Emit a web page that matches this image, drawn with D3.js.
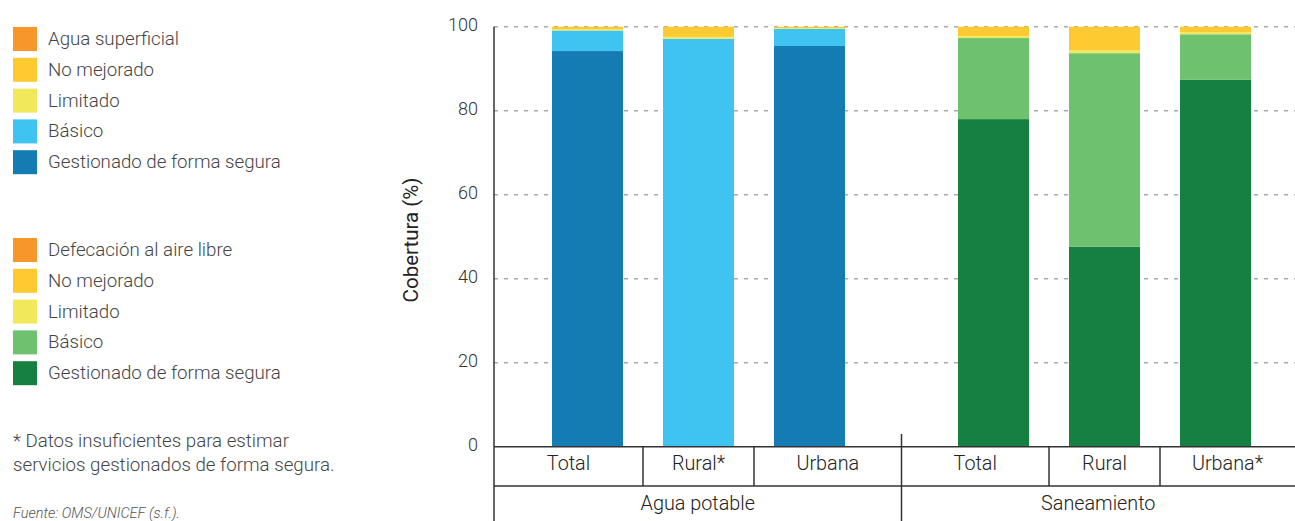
<!DOCTYPE html>
<meta charset="utf-8">
<style>
    body { margin: 0; background: #fff; }
    text { font-family: Roboto, "Noto Sans", sans-serif; font-weight: 300; }
    .legend text { font-size: 18.7px; fill: #444; }
    .note { font-size: 18.7px; fill: #444; }
    .source { font-size: 14.5px; fill: #555; font-style: italic; }
    .y-axis text { font-size: 18px; fill: #333; }
    .cell-label { font-size: 19.8px; fill: #222; }
</style>
<svg width="1295" height="521"></svg>
<script src="https://d3js.org/d3.v7.min.js"></script>
<script>

    // categorias y valores (%)
    const grupos = ["Agua potable", "Saneamiento"];
    const categorias = ["Total", "Rural", "Urbana"];
    const etiquetasAgua = ["Total", "Rural*", "Urbana"];
    const etiquetasSaneamiento = ["Total", "Rural", "Urbana*"];

    const aguaSegura = [94.2, 0, 95.4];
    const aguaBasico = [4.9, 97.1, 4.1];
    const aguaLimitado = [0.3, 0.5, 0.2];
    const aguaNoMejorado = [0.6, 2.4, 0.3];
    const aguaSuperficial = [0, 0, 0];

    const sanSegura = [78.0, 47.6, 87.4];
    const sanBasico = [19.3, 46.1, 10.8];
    const sanLimitado = [0.5, 0.7, 0.5];
    const sanNoMejorado = [2.2, 5.6, 1.3];
    const sanAireLibre = [0, 0, 0];

    const yTicks = [0, 20, 40, 60, 80, 100];

    const legendAgua = ["Agua superficial", "No mejorado", "Limitado", "Básico", "Gestionado de forma segura"];
    const legendSan = ["Defecación al aire libre", "No mejorado", "Limitado", "Básico", "Gestionado de forma segura"];
    const coloresAgua = ["#f7972b", "#fdca31", "#f1e85c", "#3fc4f1", "#147cb2"];
    const coloresSan = ["#f7972b", "#fdca31", "#f1e85c", "#6ec26f", "#168040"];

    const keys = ["segura", "basico", "limitado", "noMejorado", "superficial"];

    const svg = d3.select("svg"),
        width = +svg.attr("width"),
        height = +svg.attr("height");

    const plotLeft = 494, plotTop = 26.7, plotBottom = 446.7, rowLine = 486;

    const y = d3.scaleLinear().domain([0, 100]).range([plotBottom, plotTop]);

    const xGroup = d3.scaleBand().domain(grupos).range([552, 1251]).paddingInner(113 / 406);
    const xSub = d3.scaleBand().domain(categorias).range([0, xGroup.bandwidth()]).paddingInner(40 / 111);

    function rows(seg, bas, lim, nom, sup) {
        return categorias.map((c, i) => ({
            cat: c, segura: seg[i], basico: bas[i], limitado: lim[i], noMejorado: nom[i], superficial: sup[i]
        }));
    }

    const datos = {
        "Agua potable": rows(aguaSegura, aguaBasico, aguaLimitado, aguaNoMejorado, aguaSuperficial),
        "Saneamiento": rows(sanSegura, sanBasico, sanLimitado, sanNoMejorado, sanAireLibre)
    };
    const colores = {
        "Agua potable": coloresAgua.slice().reverse(),
        "Saneamiento": coloresSan.slice().reverse()
    };

    // gridlines
    svg.append("g")
        .selectAll("line")
        .data(yTicks.filter(d => d > 0))
        .enter().append("line")
        .attr("x1", plotLeft).attr("x2", width)
        .attr("y1", d => y(d)).attr("y2", d => y(d))
        .attr("stroke", "#aaa")
        .attr("stroke-width", 1.5)
        .attr("stroke-dasharray", "4,6");

    // y axis labels
    const yAxis = svg.append("g")
        .attr("class", "y-axis")
        .attr("transform", `translate(${plotLeft},0)`)
        .call(d3.axisLeft(y).tickValues(yTicks).tickSize(0).tickPadding(16));
    yAxis.select(".domain").remove();
    yAxis.selectAll("text").attr("dy", "0.2em");

    svg.append("text")
        .attr("transform", `translate(418,240) rotate(-90)`)
        .attr("text-anchor", "middle")
        .style("font-size", "20.5px")
        .style("font-weight", 400)
        .style("fill", "#222")
        .text("Cobertura (%)");

    // stacked bars
    const stack = d3.stack().keys(keys);
    grupos.forEach(g => {
        const series = stack(datos[g]);
        svg.append("g")
            .selectAll("g")
            .data(series)
            .enter().append("g")
            .attr("fill", (d, i) => colores[g][i])
            .selectAll("rect")
            .data(d => d)
            .enter().append("rect")
            .attr("x", d => xGroup(g) + xSub(d.data.cat))
            .attr("width", xSub.bandwidth())
            .attr("y", d => y(d[1]))
            .attr("height", d => y(d[0]) - y(d[1]));
    });

    // table under the bars
    const lines = svg.append("g").attr("stroke", "#333").attr("stroke-width", 1.5);
    const grpEdges = [plotLeft, (xGroup("Agua potable") + xGroup.bandwidth() + xGroup("Saneamiento")) / 2, width];

    lines.append("line").attr("x1", plotLeft).attr("x2", width).attr("y1", plotBottom).attr("y2", plotBottom);
    lines.append("line").attr("x1", plotLeft).attr("x2", width).attr("y1", rowLine).attr("y2", rowLine);
    lines.append("line").attr("x1", plotLeft).attr("x2", plotLeft).attr("y1", plotTop).attr("y2", height);
    lines.append("line").attr("x1", grpEdges[1]).attr("x2", grpEdges[1]).attr("y1", 434).attr("y2", height);

    grupos.forEach((g, gi) => {
        const labels = gi === 0 ? etiquetasAgua : etiquetasSaneamiento;
        const edges = [grpEdges[gi]];
        for (let i = 1; i < categorias.length; i++) {
            const prevEnd = xGroup(g) + xSub(categorias[i - 1]) + xSub.bandwidth();
            edges.push((prevEnd + xGroup(g) + xSub(categorias[i])) / 2);
        }
        edges.push(grpEdges[gi + 1]);

        edges.slice(1, -1).forEach(e => {
            lines.append("line").attr("x1", e).attr("x2", e).attr("y1", plotBottom).attr("y2", rowLine);
        });

        labels.forEach((l, i) => {
            svg.append("text")
                .attr("class", "cell-label")
                .attr("x", (edges[i] + edges[i + 1]) / 2)
                .attr("y", 470)
                .attr("text-anchor", "middle")
                .text(l);
        });

        svg.append("text")
            .attr("class", "cell-label")
            .attr("x", (grpEdges[gi] + grpEdges[gi + 1]) / 2)
            .attr("y", 510)
            .attr("text-anchor", "middle")
            .text(g);
    });

    // legends
    function legend(items, cols, y0) {
        const lg = svg.append("g").attr("class", "legend").attr("transform", `translate(13,${y0})`);
        const row = lg.selectAll("g")
            .data(items)
            .enter().append("g")
            .attr("transform", (d, i) => `translate(0,${i * 30.8})`);
        row.append("rect")
            .attr("width", 24).attr("height", 24)
            .attr("fill", (d, i) => cols[i]);
        row.append("text")
            .attr("x", 35).attr("y", 18)
            .text(d => d);
    }
    legend(legendAgua, coloresAgua, 27);
    legend(legendSan, coloresSan, 238);

    svg.append("text").attr("class", "note").attr("x", 13).attr("y", 447)
        .text("* Datos insuficientes para estimar");
    svg.append("text").attr("class", "note").attr("x", 13).attr("y", 471)
        .text("servicios gestionados de forma segura.");
    svg.append("text").attr("class", "source").attr("x", 13).attr("y", 518)
        .text("Fuente: OMS/UNICEF (s.f.).");

</script>
